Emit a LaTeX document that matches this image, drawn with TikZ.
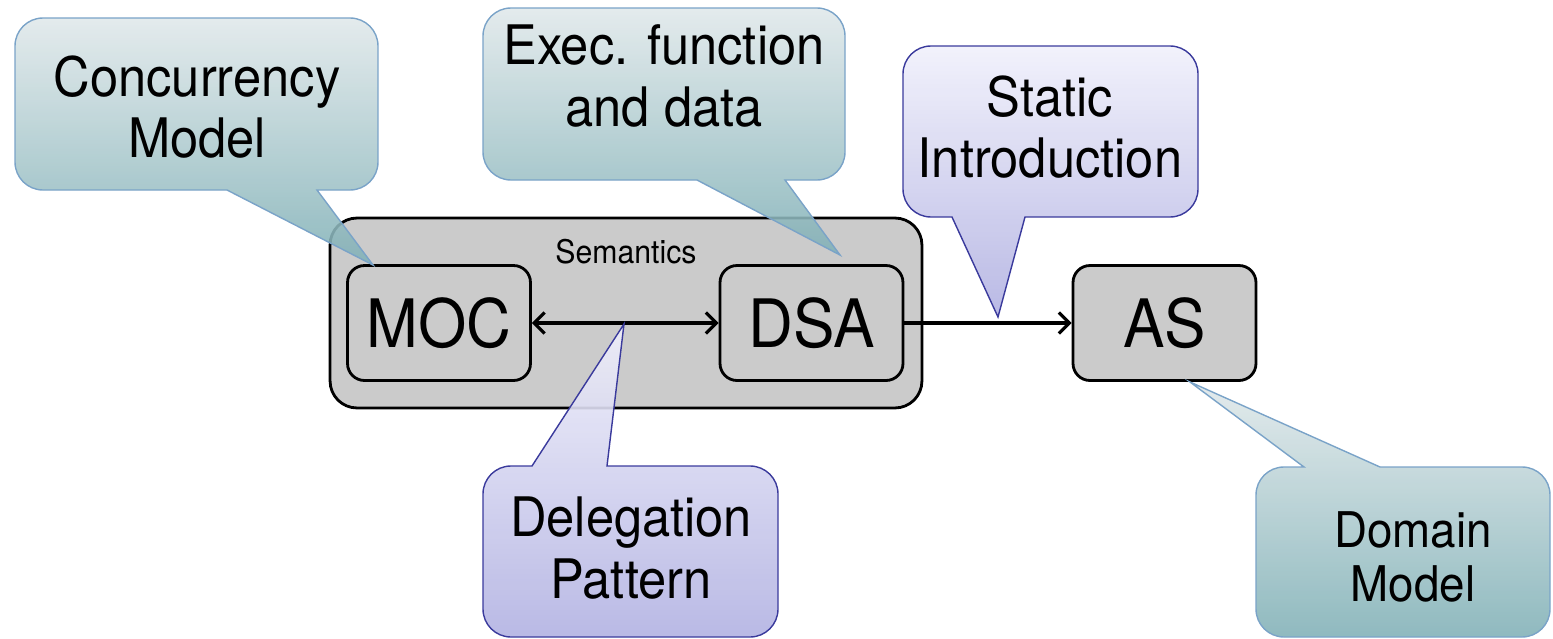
\documentclass[tikz,border=0pt]{standalone}
\usepackage{fontspec}
\setmainfont[FakeStretch=0.93]{TeX Gyre Heros}
\usetikzlibrary{arrows.meta}

\definecolor{boxgray}{HTML}{CBCBCB}
\definecolor{tealtop}{HTML}{E0E8EA}
\definecolor{tealbot}{HTML}{80B0B6}
\definecolor{tealline}{HTML}{7AA3C8}
\definecolor{lavtop}{HTML}{F0F0FB}
\definecolor{lavbot}{HTML}{B2B2E2}
\definecolor{lavline}{HTML}{3A3A9C}

\begin{document}
\begin{tikzpicture}[x=0.02cm, y=-0.02cm,
    part/.style={draw, line width=1.6pt, fill=boxgray, rounded corners=0.34cm,
        minimum width=3.66cm, minimum height=2.3cm, inner sep=0pt,
        font=\fontsize{38}{42}\selectfont},
    tealcall/.style={draw=tealline, line width=0.8pt, top color=tealtop,
        bottom color=tealbot, fill opacity=0.88},
    lavcall/.style={draw=lavline, line width=0.8pt, top color=lavtop,
        bottom color=lavbot, fill opacity=0.9},
    calltext/.style={align=center, font=\fontsize{31}{35}\selectfont},
    >={Straight Barb[length=6pt,width=12pt]}]

    % frame of the whole picture
    \useasboundingbox (0,0) rectangle (1553,639);

    % Semantics box with its two parts
    \node[draw, line width=1.6pt, fill=boxgray, rounded corners=0.54cm,
        minimum width=11.84cm, minimum height=3.8cm] (sem) at (626,313) {};
    \node[font=\fontsize{18.5}{20}\selectfont] (semtitle) at (626,252) {Semantics};
    \node[part] (moc) at (439,323) {MOC};
    \node[part] (dsa) at (811.5,323) {DSA};
    \node[part] (as) at (1164.5,323) {AS};

    % Connections
    \draw[<->, line width=1.8pt] (moc) -- (dsa);
    \draw[->, line width=1.8pt] (dsa) -- (as);

    % Callouts
    \draw[tealcall] (196,18) -- (350,18) .. controls (365.5,18) and (378,30.5) .. (378,46)
        -- (378,162) .. controls (378,177.5) and (365.5,190) .. (350,190)
        -- (317,190) -- (373,265) -- (227,190)
        -- (43,190) .. controls (27.5,190) and (15,177.5) .. (15,162)
        -- (15,46) .. controls (15,30.5) and (27.5,18) .. (43,18) -- cycle;
    \node[calltext] (concur) at (197,107) {Concurrency\\Model};

    \draw[tealcall] (664,8) -- (817,8) .. controls (832.5,8) and (845,20.5) .. (845,36)
        -- (845,152) .. controls (845,167.5) and (832.5,180) .. (817,180)
        -- (785,180) -- (840,255) -- (697,180)
        -- (511,180) .. controls (495.5,180) and (483,167.5) .. (483,152)
        -- (483,36) .. controls (483,20.5) and (495.5,8) .. (511,8) -- cycle;
    \node[calltext] (exec) at (664,76) {Exec. function\\and data};

    \draw[lavcall] (1050,46) -- (1170,46) .. controls (1185.5,46) and (1198,58.5) .. (1198,74)
        -- (1198,189) .. controls (1198,204.5) and (1185.5,217) .. (1170,217)
        -- (1025,217) -- (998,317) -- (952,217)
        -- (931,217) .. controls (915.5,217) and (903,204.5) .. (903,189)
        -- (903,74) .. controls (903,58.5) and (915.5,46) .. (931,46) -- cycle;
    \node[calltext] (static) at (1050,127) {Static\\Introduction};

    \draw[lavcall] (630,637) -- (511,637) .. controls (495.5,637) and (483,624.5) .. (483,609)
        -- (483,494) .. controls (483,478.5) and (495.5,466) .. (511,466)
        -- (532,466) -- (624,324) -- (607,466)
        -- (750,466) .. controls (765.5,466) and (778,478.5) .. (778,494)
        -- (778,609) .. controls (778,624.5) and (765.5,637) .. (750,637) -- cycle;
    \node[calltext] (deleg) at (631,548) {Delegation\\Pattern};

    \draw[tealcall] (1403,637) -- (1284,637) .. controls (1268.5,637) and (1256,624.5) .. (1256,609)
        -- (1256,495) .. controls (1256,479.5) and (1268.5,467) .. (1284,467)
        -- (1304,467) -- (1190,382) -- (1380,467)
        -- (1522,467) .. controls (1537.5,467) and (1550,479.5) .. (1550,495)
        -- (1550,609) .. controls (1550,624.5) and (1537.5,637) .. (1522,637) -- cycle;
    \node[calltext, font=\fontsize{28}{31}\selectfont] (domain) at (1413,557) {Domain\\Model};
\end{tikzpicture}
\end{document}
